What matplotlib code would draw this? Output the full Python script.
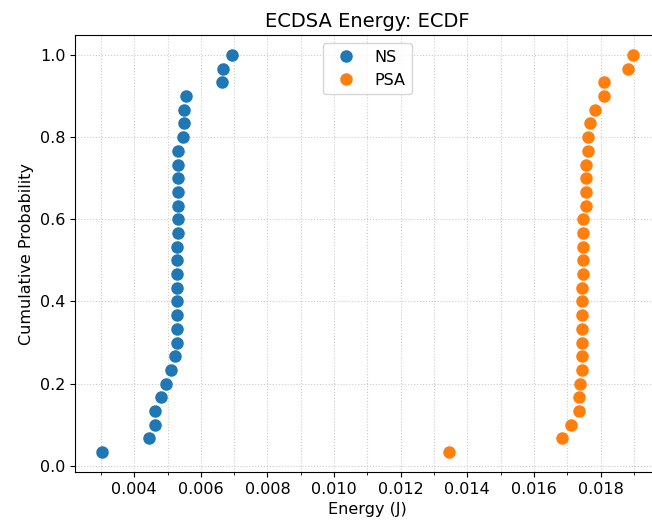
import numpy as np
import matplotlib
matplotlib.use("Agg")
import matplotlib.pyplot as plt
from matplotlib.ticker import MultipleLocator

# energía ECDSA (J), 30 mediciones por método, ya ordenadas
ns_energy = [
    0.00302, 0.00444, 0.00463, 0.00463, 0.00480, 0.00495, 0.00509, 0.00523,
    0.00529, 0.00529, 0.00529, 0.00529, 0.00529, 0.00529, 0.00529, 0.00529,
    0.00532, 0.00532, 0.00532, 0.00532, 0.00532, 0.00532, 0.00532, 0.00545,
    0.00549, 0.00549, 0.00555, 0.00664, 0.00667, 0.00694,
]
psa_energy = [
    0.01345, 0.01685, 0.01710, 0.01735, 0.01735, 0.01738, 0.01744, 0.01744,
    0.01744, 0.01744, 0.01744, 0.01744, 0.01744, 0.01747, 0.01747, 0.01747,
    0.01747, 0.01747, 0.01755, 0.01755, 0.01755, 0.01755, 0.01763, 0.01763,
    0.01769, 0.01784, 0.01809, 0.01809, 0.01883, 0.01898,
]
labels = ["NS", "PSA"]


def ecdf(values):
    x = np.sort(values)
    y = np.arange(1, len(x) + 1) / len(x)
    return x, y


fig = plt.figure(figsize=(6.52, 5.25), dpi=100)
# el eje derecho queda fuera del recorte, como en la imagen original
ax = fig.add_axes([0.115, 0.101, 0.897, 0.832])

for data, lab in zip([ns_energy, psa_energy], labels):
    x, y = ecdf(data)
    ax.plot(x, y, marker="o", linestyle="none", markersize=8, label=lab)

ax.xaxis.set_major_locator(MultipleLocator(0.002))
ax.xaxis.set_minor_locator(MultipleLocator(0.001))
ax.yaxis.set_major_locator(MultipleLocator(0.2))
ax.grid(True, which="both", linestyle=":", color="#cccccc", linewidth=0.8)
ax.set_axisbelow(True)
ax.tick_params(labelsize=11.5)
ax.spines["right"].set_visible(False)

ax.set_title("ECDSA Energy: ECDF", fontsize=14)
ax.set_xlabel("Energy (J)", fontsize=11.5)
ax.set_ylabel("Cumulative Probability", fontsize=11.5)
ax.legend(loc="upper center", fontsize=11.5)

fig.savefig("out.png", dpi=100)
